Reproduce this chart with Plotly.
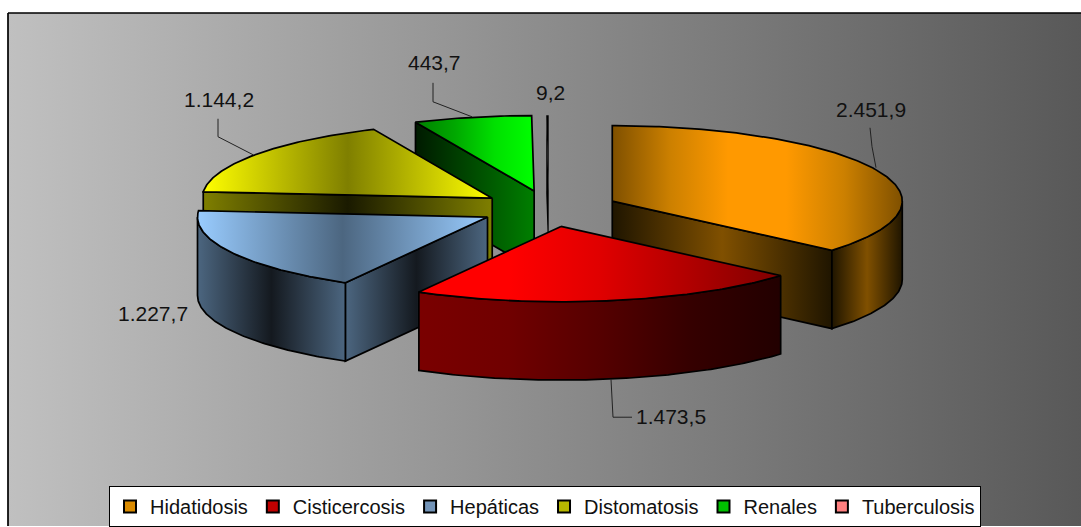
import math
import plotly.graph_objects as go

# ---- data ----
categories = ["Hidatidosis", "Cisticercosis", "Hepáticas", "Distomatosis", "Renales", "Tuberculosis"]
values = [2451.9, 1473.5, 1227.7, 1144.2, 443.7, 9.2]

# ---- style ----
legend_colors = ["#d98a00", "#c00000", "#7394b8", "#b8b800", "#00c000", "#ff8080"]
top_scales = [["#7f5000", "#cc8000", "#ff9900", "#ff9900", "#cc8000", "#7f5000"],
              ["#ff0000", "#ff0000", "#e00000", "#b00000", "#7f0000"],
              ["#99ccff", "#4c6680", "#99ccff"],
              ["#ffff00", "#7f7f00", "#ffff00"],
              ["#007f00", "#00a800", "#00e000", "#00ff00"],
              ["#000000", "#000000"]]
side_scales = [["#1f1500", "#805000", "#1f1500"],
               ["#7a0000", "#700000", "#550000", "#350000", "#220000"],
               ["#4c6680", "#14191f", "#4c6680"],
               ["#7f7f00", "#1a1a00", "#7f7f00"],
               ["#001a00", "#007f00"],
               ["#000000", "#000000"]]
outlines = [1.7, 1.7, 1.7, 1.7, 1.7, 0.0]
paint_order = [4, 5, 3, 0, 2, 1]  # back to front

# ---- projection of the pie onto the page (pixels) ----
W, H = 1081, 527
CX, CY = 549, 209
RX, RY = 290, 75.5
DEPTH = 78.5
EXPLODE = 0.24


def cs(colors):
    n = len(colors) - 1
    return [[i / n, c] for i, c in enumerate(colors)]


def es_number(v):
    return f"{v:,.1f}".replace(",", "#").replace(".", ",").replace("#", ".")


def pt(apex, deg, dy=0.0):
    r = math.radians(deg)
    return apex[0] + RX * math.sin(r), apex[1] - RY * math.cos(r) + dy


def arc(apex, a0, a1, dy=0.0):
    n = max(2, int(abs(a1 - a0) * 1.5))
    return [pt(apex, a0 + (a1 - a0) * i / n, dy) for i in range(n + 1)]


def poly(fig, points, colors, width=1.7):
    xs = [p[0] for p in points] + [points[0][0]]
    ys = [p[1] for p in points] + [points[0][1]]
    fig.add_trace(go.Scatter(
        x=xs, y=ys, mode="lines", fill="toself",
        fillgradient=dict(type="horizontal", colorscale=cs(colors)),
        line=dict(color="#000000", width=width),
        hoverinfo="skip", showlegend=False))


fig = go.Figure()

# panel background
poly(fig, [(8, 13), (W + 5, 13), (W + 5, H + 5), (8, H + 5)], ["#c0c0c0", "#585858"])

# slice angles
total = sum(values)
angles = []
acc = 0.0
for v in values:
    angles.append((acc, acc + v / total * 360))
    acc += v / total * 360

for i in paint_order:
    a0, a1 = angles[i]
    lw = outlines[i]
    mid = math.radians((a0 + a1) / 2)
    apex = (CX + EXPLODE * RX * math.sin(mid), CY - EXPLODE * RY * math.cos(mid))
    # cut faces that look towards the viewer
    if math.sin(math.radians(a0)) < -1e-6:
        p = pt(apex, a0)
        q = pt(apex, a0, DEPTH)
        poly(fig, [apex, p, q, (apex[0], apex[1] + DEPTH)], side_scales[i], lw)
    if math.sin(math.radians(a1)) > 1e-6:
        p = pt(apex, a1)
        q = pt(apex, a1, DEPTH)
        poly(fig, [apex, p, q, (apex[0], apex[1] + DEPTH)], side_scales[i], lw)
    # curved wall
    s0, s1 = max(a0, 90), min(a1, 270)
    if s1 > s0:
        poly(fig, arc(apex, s0, s1) + arc(apex, s1, s0, DEPTH), side_scales[i], lw)
    # top
    poly(fig, [apex] + arc(apex, a0, a1), top_scales[i], lw)

# leader lines
leaders = [
    [(870, 128), (872, 147), (876, 168)],
    [(611, 380), (613, 418), (632, 418)],
    [(218, 119), (218, 137), (253, 155)],
    [(433, 83), (433, 102), (472, 117)],
]
for seg in leaders:
    fig.add_trace(go.Scatter(x=[p[0] for p in seg], y=[p[1] for p in seg], mode="lines",
                             line=dict(color="#222222", width=1), hoverinfo="skip", showlegend=False))

# value labels
label_pos = [(871, 110), (671, 417), (153, 314), (219, 100), (434, 63), (550, 93)]
for v, (x, y) in zip(values, label_pos):
    fig.add_annotation(x=x, y=y, text=es_number(v), showarrow=False, xanchor="center", yanchor="middle",
                       font=dict(family="Liberation Sans, Arial, sans-serif", size=21, color="#111111"))

# legend entries
for name, c in zip(categories, legend_colors):
    fig.add_trace(go.Scatter(x=[None], y=[None], mode="markers", name=name,
                             marker=dict(symbol="square", size=12, color=c,
                                         line=dict(color="#000000", width=2))))

fig.update_layout(
    width=W, height=H, margin=dict(l=0, r=0, t=0, b=0),
    paper_bgcolor="#ffffff", plot_bgcolor="#ffffff",
    xaxis=dict(range=[0, W], visible=False, fixedrange=True),
    yaxis=dict(range=[H, 0], visible=False, fixedrange=True),
    showlegend=True,
    legend=dict(orientation="h", x=545 / W, xanchor="center", y=1 - 487 / H, yanchor="top",
                bgcolor="#ffffff", bordercolor="#000000", borderwidth=1,
                font=dict(family="Liberation Sans, Arial, sans-serif", size=20, color="#111111")),
)

fig.write_html("out.html", config={"displayModeBar": False},
               post_script="document.body.style.margin='0';document.body.style.overflow='hidden';")
